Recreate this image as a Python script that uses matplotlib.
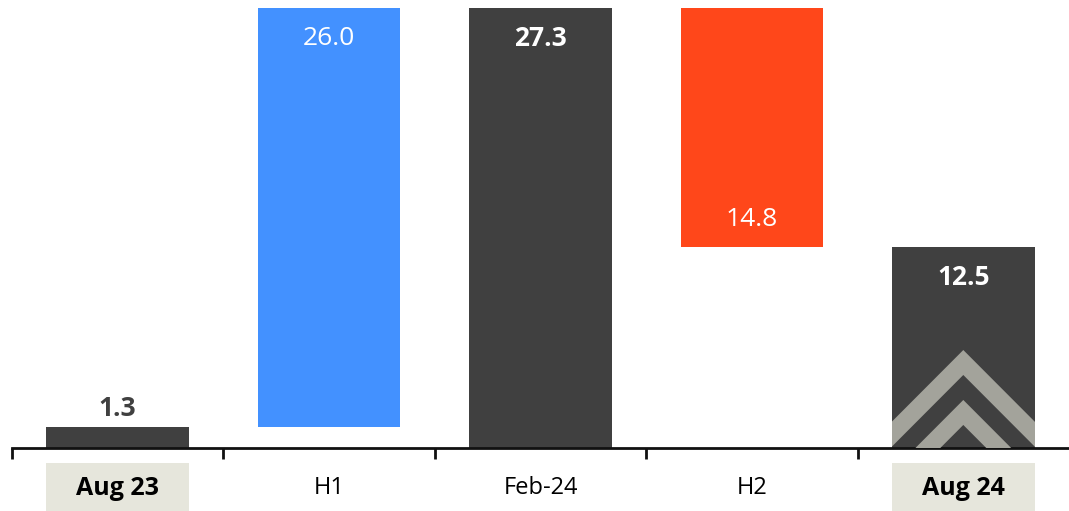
import matplotlib.pyplot as plt
import matplotlib.transforms as mtransforms
from matplotlib.patches import Rectangle, Polygon

categories = ["Aug 23", "H1", "Feb-24", "H2", "Aug 24"]
values = [1.3, 26.0, 27.3, -14.8, 12.5]
kinds = ["total", "delta", "total", "delta", "total"]
labels = ["1.3", "26.0", "27.3", "14.8", "12.5"]

dark = "#404040"
up_col = "#4391ff"
down_col = "#ff471a"
box_col = "#e6e6dc"
chev_col = "#a3a39b"
width = 0.675

plt.rcParams['font.family'] = ['Open Sans', 'DejaVu Sans']

fig = plt.figure(figsize=(10.69, 5.11), dpi=100)
ax = fig.add_axes([12 / 1069, 63 / 511, 1 - 12 / 1069, 440 / 511])

# waterfall bottoms / heights
running = 0
bars = []
for i, (v, k) in enumerate(zip(values, kinds)):
    if k == "total":
        bottom, height, col = 0, v, dark
        running = v
    else:
        if v >= 0:
            bottom, height, col = running, v, up_col
        else:
            bottom, height, col = running + v, -v, down_col
        running += v
    b = ax.bar(i, height, bottom=bottom, width=width, color=col, zorder=2)
    bars.append((b[0], bottom, height, k, v))

# value labels
for i, (patch, bottom, height, k, v) in enumerate(bars):
    top = bottom + height
    if i == 0:
        ax.text(i, top + 0.3, labels[i], ha="center", va="bottom", fontsize=19,
                fontweight="bold", color=dark)
    elif k == "total":
        ax.text(i, top - 1.9, labels[i], ha="center", va="center", fontsize=19,
                fontweight="bold", color="white", zorder=4)
    elif v >= 0:
        ax.text(i, top - 1.9, labels[i], ha="center", va="center", fontsize=19,
                fontweight="normal", color="white", zorder=4)
    else:
        ax.text(i, bottom + 1.7, labels[i], ha="center", va="center", fontsize=19,
                fontweight="normal", color="white", zorder=4)

# chevron decoration on last bar
last = bars[-1][0]
cx = len(values) - 1
s = (440 / 27.3) ** -1 * 212  # y units per x unit for 45 degree in pixels
for apex, thick in [(6.08, 1.55), (2.98, 1.55)]:
    w = 1.0
    pts = [(cx, apex), (cx - w, apex - w * s), (cx - w, apex - w * s - thick),
           (cx, apex - thick), (cx + w, apex - w * s - thick), (cx + w, apex - w * s)]
    poly = Polygon(pts, closed=True, color=chev_col, zorder=3, lw=0)
    ax.add_patch(poly)
    poly.set_clip_path(last)

ax.set_xlim(-0.5, 4.5)
ax.set_ylim(0, 27.3)
for sp in ["top", "right", "left"]:
    ax.spines[sp].set_visible(False)
ax.spines["bottom"].set_linewidth(2)
ax.spines["bottom"].set_color("#111111")
ax.set_yticks([])
ax.set_xticks(range(len(categories)))
ax.set_xticklabels(categories, fontsize=17)
ax.tick_params(axis="x", length=0, pad=20)
ax.set_xticks([i - 0.5 for i in range(len(categories))], minor=True)
ax.tick_params(axis="x", which="minor", length=8, width=2, color="#111111", direction="out")

trans = mtransforms.blended_transform_factory(ax.transData, fig.transFigure)
for i, lab in enumerate(ax.get_xticklabels()):
    if kinds[i] == "total" and i in (0, len(categories) - 1):
        lab.set_fontweight("bold")
        lab.set_fontsize(18)
        ax.add_patch(Rectangle((i - width / 2, 0), width, 48 / 511, transform=trans,
                               facecolor=box_col, edgecolor="none", clip_on=False, zorder=0))

fig.savefig("out.png", dpi=100)
